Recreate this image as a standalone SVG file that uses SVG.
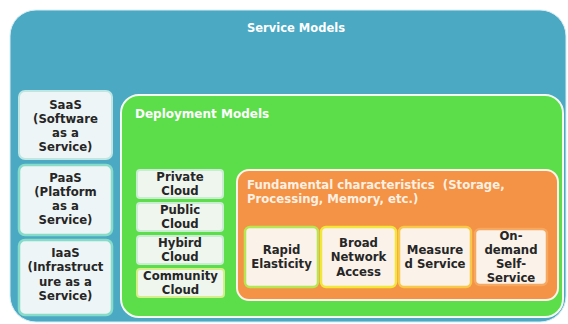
<svg xmlns="http://www.w3.org/2000/svg" width="568" height="324" viewBox="0 0 568 324">
  <style>
    text { font-family: "DejaVu Sans", "Liberation Sans", sans-serif; font-weight: bold; }
    .title { fill: #ffffff; font-size: 11.5px; }
    .fund { fill: #fdf0e2; font-size: 11.7px; white-space: pre; }
    .lbl { fill: #262626; font-size: 11.7px; text-anchor: middle; }
    .svc { fill: #eef5f6; stroke: #bfe6e2; stroke-width: 2; }
    .svc2 { fill: #eef5f6; stroke: #86dcc8; stroke-width: 2.5; }
    .dep { fill: #eef6ee; stroke: #c9ecd2; stroke-width: 2; }
    .chr { fill: #fbf2ea; stroke-width: 2.5; }
  </style>

  <rect width="568" height="324" fill="#ffffff"/>

  <!-- outer container: service models -->
  <g id="service-models">
    <rect x="10" y="10" width="556" height="312" rx="26" fill="#4ba9c3" stroke="#d8eef3" stroke-width="1"/>
    <text class="title" x="296" y="32" text-anchor="middle">Service Models</text>
  </g>

  <g id="saas">
    <rect class="svc" x="19" y="91" width="93" height="68" rx="6"/>
    <text class="lbl" x="65.5" y="109">SaaS</text>
    <text class="lbl" x="65.5" y="123">(Software</text>
    <text class="lbl" x="65.5" y="137">as a</text>
    <text class="lbl" x="65.5" y="151">Service)</text>
  </g>

  <g id="paas">
    <rect class="svc2" x="19" y="165" width="93" height="70" rx="6"/>
    <text class="lbl" x="65.5" y="182">PaaS</text>
    <text class="lbl" x="65.5" y="196">(Platform</text>
    <text class="lbl" x="65.5" y="210">as a</text>
    <text class="lbl" x="65.5" y="224">Service)</text>
  </g>

  <g id="iaas">
    <rect class="svc2" x="19" y="240" width="93" height="75" rx="6"/>
    <text class="lbl" x="65.5" y="257">IaaS</text>
    <text class="lbl" x="65.5" y="271">(Infrastruct</text>
    <text class="lbl" x="65.5" y="286">ure as a</text>
    <text class="lbl" x="65.5" y="300">Service)</text>
  </g>

  <!-- deployment models container -->
  <g id="deployment-models">
    <rect x="121" y="95" width="442" height="222" rx="18" fill="#5bde49" stroke="#f4fbf2" stroke-width="2"/>
    <text class="title" x="135" y="118" style="font-size:12px">Deployment Models</text>
  </g>

  <g id="private-cloud">
    <rect class="dep" x="137" y="170" width="86" height="28" rx="3"/>
    <text class="lbl" x="180" y="181">Private</text>
    <text class="lbl" x="180" y="195">Cloud</text>
  </g>

  <g id="public-cloud">
    <rect class="dep" x="137" y="203" width="86" height="28" rx="3"/>
    <text class="lbl" x="180" y="214">Public</text>
    <text class="lbl" x="180" y="228">Cloud</text>
  </g>

  <g id="hybird-cloud">
    <rect class="dep" x="137" y="236" width="86" height="28" rx="3"/>
    <text class="lbl" x="180" y="247">Hybird</text>
    <text class="lbl" x="180" y="261">Cloud</text>
  </g>

  <g id="community-cloud">
    <rect class="dep" x="137" y="269" width="87" height="28" rx="3" style="stroke:#d6ee8a"/>
    <text class="lbl" x="180.5" y="280">Community</text>
    <text class="lbl" x="180.5" y="294">Cloud</text>
  </g>

  <!-- fundamental characteristics container -->
  <g id="fundamental-characteristics">
    <rect x="237" y="170" width="321" height="130" rx="12" fill="#f49245" stroke="#fdf3ea" stroke-width="2"/>
    <text class="fund" x="247" y="189" xml:space="preserve">Fundamental characteristics  (Storage,</text>
    <text class="fund" x="247" y="203">Processing, Memory, etc.)</text>
  </g>

  <g id="rapid-elasticity">
    <rect class="chr" x="245" y="227" width="73" height="60" rx="5" stroke="#b8e650"/>
    <text class="lbl" x="281.5" y="254">Rapid</text>
    <text class="lbl" x="281.5" y="268">Elasticity</text>
  </g>

  <g id="broad-network-access">
    <rect class="chr" x="321" y="227" width="75" height="60" rx="5" stroke="#f2e63a"/>
    <text class="lbl" x="358.5" y="247">Broad</text>
    <text class="lbl" x="358.5" y="261">Network</text>
    <text class="lbl" x="358.5" y="276">Access</text>
  </g>

  <g id="measured-service">
    <rect class="chr" x="399" y="227" width="72" height="60" rx="5" stroke="#f7c84a"/>
    <text class="lbl" x="435" y="254">Measure</text>
    <text class="lbl" x="435" y="268">d Service</text>
  </g>

  <g id="on-demand-self-service">
    <rect class="chr" x="475" y="229" width="72" height="56" rx="5" stroke="#f6a860" stroke-width="1"/>
    <text class="lbl" x="511" y="240">On-</text>
    <text class="lbl" x="511" y="254">demand</text>
    <text class="lbl" x="511" y="268">Self-</text>
    <text class="lbl" x="511" y="282">Service</text>
  </g>
</svg>
